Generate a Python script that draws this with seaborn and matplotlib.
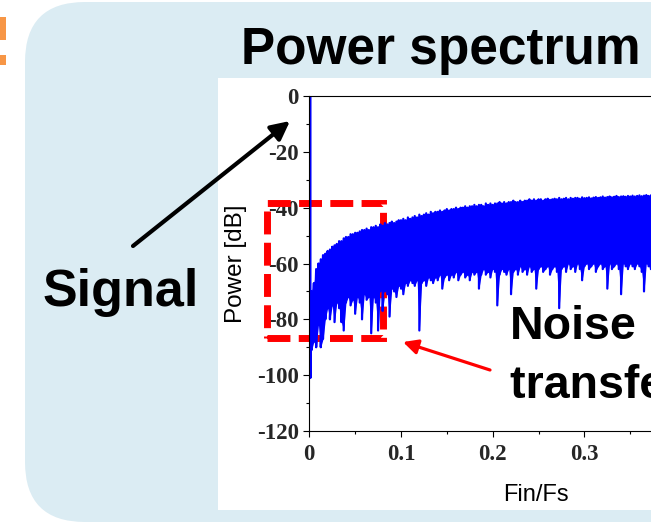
import numpy as np
import pandas as pd
import matplotlib
matplotlib.use("Agg")
import matplotlib.pyplot as plt
from matplotlib.patches import FancyBboxPatch, Rectangle
import seaborn as sns

# ---------------- data ----------------
signal_freq = 0.0012
signal_level = [0.0, -101.0]          # dB, the input tone line
bin_step = 0.0025                      # FFT bin spacing (Fin/Fs)
freqs = np.round(np.arange(1, 150) * bin_step, 5)

top_db = [
    -70, -67, -62, -60, -58.5, -57, -56.5, -55.5, -55, -54,
    -53.5, -53, -52, -52, -51, -50.5, -50.5, -49.5, -49.5, -49,
    -49, -48.5, -48, -48, -47.5, -48, -47, -47, -46.5, -47,
    -46, -46.5, -45.5, -46, -45.5, -45, -45.5, -45, -44.5, -44.5,
    -44, -44.5, -43.5, -44, -43.5, -43, -43.5, -42.5, -43, -42.5,
    -42, -42.5, -41.5, -42, -41.5, -41.5, -41, -41.5, -41, -40.5,
    -41, -40.5, -40.5, -40, -40.5, -40, -40, -39.5, -40, -39.5,
    -39.5, -39, -39.5, -39, -39, -39.5, -38.5, -39, -38.5, -39,
    -38.5, -38.5, -38, -38.5, -38, -38.5, -38, -38, -37.5, -38,
    -38, -37.5, -38, -37.5, -37.5, -37, -37.5, -37, -37.5, -37,
    -37, -37.5, -37, -36.8, -37.2, -37, -36.8, -37, -36.5, -37,
    -36.8, -36.5, -37, -36.5, -36.8, -36.5, -36.5, -36.8, -36.3, -36.6,
    -36.5, -36.3, -36.7, -36.4, -36.2, -36.5, -36.3, -36, -36.4, -36.2,
    -36, -36.3, -36.1, -35.8, -36.2, -36, -35.9, -36.1, -35.8, -36,
    -35.7, -36, -35.8, -35.6, -35.9, -35.7, -35.5, -35.8, -35.6,
]

bottom_db = [
    -91, -88, -90, -82, -90, -87, -80, -76, -80, -75,
    -81, -74, -76, -81, -84, -74, -72, -75, -73, -78,
    -72, -74, -80, -71, -73, -72, -85, -72, -74, -84,
    -70, -77, -70, -71, -79, -69, -70, -72, -68, -69,
    -71, -67, -68, -66, -67, -68, -66, -84, -67, -66,
    -68, -65, -66, -67, -65, -66, -64, -69, -65, -64,
    -66, -64, -65, -63, -66, -64, -63, -65, -64, -66,
    -63, -64, -63, -69, -64, -62, -64, -63, -65, -62,
    -63, -75, -64, -62, -63, -64, -62, -71, -63, -62,
    -64, -61, -63, -62, -64, -61, -63, -62, -69, -62,
    -61, -63, -62, -61, -64, -62, -61, -63, -76, -62,
    -61, -63, -60, -62, -61, -63, -60, -62, -66, -61,
    -60, -62, -61, -60, -63, -61, -60, -62, -61, -69,
    -60, -62, -61, -60, -62, -71, -60, -61, -62, -60,
    -61, -62, -60, -61, -63, -70, -60, -61, -62,
]

xticks = [0, 0.1, 0.2, 0.3]
xtick_labels = ["0", "0.1", "0.2", "0.3"]
yticks = [0, -20, -40, -60, -80, -100, -120]
ytick_labels = ["0", "-20", "-40", "-60", "-80", "-100", "-120"]

# zig-zag sequence of the dense spectrum (tone first, then every bin top/bottom)
xs = [signal_freq, signal_freq]
ys = list(signal_level)
for f, t, b in zip(freqs, top_db, bottom_db):
    xs += [f, f]
    ys += [t, b]
df = pd.DataFrame({"Fin/Fs": xs, "Power [dB]": ys})

# ---------------- style ----------------
sns.set_theme(style="ticks")
plt.rcParams["font.family"] = ["Liberation Sans", "DejaVu Sans"]
plt.rcParams["axes.unicode_minus"] = False

W, H = 651, 531
fig = plt.figure(figsize=(W / 100, H / 100), dpi=100, facecolor="white")

# background (slide) layer in pixel units
bg = fig.add_axes([0, 0, 1, 1], zorder=0)
bg.set_xlim(0, W)
bg.set_ylim(H, 0)
bg.axis("off")
bg.add_patch(FancyBboxPatch((25 + 60, 2 + 60), 800, 520 - 120,
                            boxstyle="round,pad=60", fc="#DBECF3", ec="none"))
bg.add_patch(Rectangle((218, 78), 500, 432, fc="white", ec="none"))
bg.add_patch(Rectangle((0, 17), 6, 23, fc="#F79646", ec="none"))
bg.add_patch(Rectangle((0, 55), 6, 10, fc="#F79646", ec="none"))

# main plot
ax_w = 458.5 / W
ax = fig.add_axes([309.3 / W, (H - 431) / H, ax_w, 335 / H], zorder=1)
ax.set_facecolor("none")
ax.fill_between(freqs, top_db, bottom_db, color="#0000FF", lw=0)
sns.lineplot(data=df, x="Fin/Fs", y="Power [dB]", sort=False, estimator=None,
             color="#0000FF", lw=1.6, ax=ax)
ax.set_xlim(0, 0.5)
ax.set_ylim(-120, 0)
ax.set_xticks(xticks)
ax.set_xticklabels(xtick_labels)
ax.set_yticks(yticks)
ax.set_yticklabels(ytick_labels)
ax.set_xticks(np.arange(0.05, 0.5, 0.1), minor=True)
ax.set_yticks(np.arange(-110, 0, 20), minor=True)
for lab in ax.get_xticklabels() + ax.get_yticklabels():
    lab.set_family("Liberation Serif")
    lab.set_fontweight("bold")
    lab.set_fontsize(16.5)
ax.tick_params(axis="both", which="major", length=4, width=0.8, direction="out",
               color="black")
ax.tick_params(axis="x", which="major", pad=5.5)
ax.tick_params(axis="y", which="major", pad=3.5)
ax.tick_params(axis="both", which="minor", length=2, width=0.8, direction="out",
               color="black")
for s in ax.spines.values():
    s.set_color("black")
    s.set_linewidth(0.8)
ax.set_xlabel("Fin/Fs", fontsize=17, color="black")
ax.set_ylabel("Power [dB]", fontsize=17.5, color="black")
ax.xaxis.set_label_coords((536 - 309.3) / 458.5, (431 - 484) / 335)
ax.yaxis.set_label_coords((247 - 309.3) / 458.5, 0.5)

# red dashed box around the low-frequency region (data coordinates)
ax.add_patch(Rectangle((-0.046, -86.7), 0.126, 48.3, fill=False, ec="#FF0000",
                       lw=5, linestyle=(0, (3.3, 1.2)), clip_on=False,
                       capstyle="butt", joinstyle="miter"))

# overlay for slide annotations, pixel units
ov = fig.add_axes([0, 0, 1, 1], zorder=2)
ov.set_xlim(0, W)
ov.set_ylim(H, 0)
ov.axis("off")
ov.set_facecolor("none")

ov.text(241, 64, "Power spectrum", fontsize=37, fontweight="bold",
        ha="left", va="baseline", color="black")
ov.text(43, 306, "Signal", fontsize=37.5, fontweight="bold",
        ha="left", va="baseline", color="black")
ov.text(510, 339, "Noise", fontsize=33.5, fontweight="bold",
        ha="left", va="baseline", color="black")
ov.text(510, 398, "transfer function", fontsize=33.5, fontweight="bold",
        ha="left", va="baseline", color="black")

ov.annotate("", xy=(290, 121), xytext=(133, 246),
            arrowprops=dict(arrowstyle="-|>", color="black", lw=3,
                            mutation_scale=28, shrinkA=0, shrinkB=0))
ov.annotate("", xy=(403, 342), xytext=(490, 370),
            arrowprops=dict(arrowstyle="-|>", color="#FF0000", lw=2.3,
                            mutation_scale=22, shrinkA=0, shrinkB=0))

fig.savefig("out.png", dpi=100, facecolor="white")
